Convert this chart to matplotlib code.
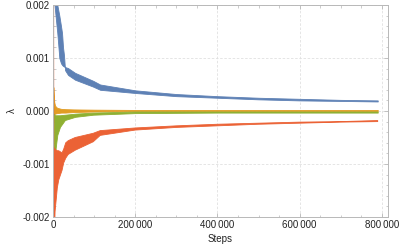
import numpy as np
import matplotlib.pyplot as plt
from matplotlib.ticker import FixedLocator, MultipleLocator, FuncFormatter

plt.rcParams['font.family'] = ['Liberation Sans', 'DejaVu Sans']

# eigenvalue bands (upper / lower envelope per series)
blue_steps = [2400, 4900, 7500, 10500, 15400, 19500, 22000, 24400, 26800, 29300, 36600,
              53700, 97600, 114600, 200000, 300000, 400000, 500000, 600000, 700000, 790000]
blue_upper = [0.0021, 0.0019, 0.0017, 0.00147, 0.0010, 0.00090, 0.00087, 0.00085, 0.00084, 0.00083, 0.00081,
              0.00072, 0.00057, 0.00050, 0.00039, 0.00032, 0.00028, 0.00025, 0.00023, 0.00021, 0.00020]
blue_lower = [0.0026, 0.0024, 0.0022, 0.0020, 0.0018, 0.0016, 0.00147, 0.0012, 0.00105, 0.00077, 0.00068,
              0.00059, 0.00046, 0.00040, 0.00034, 0.00028, 0.00025, 0.00022, 0.00020, 0.00019, 0.00018]

orange_steps = [800, 1500, 3000, 5000, 10000, 20000, 30000, 50000, 100000, 200000, 400000, 790000]
orange_upper = [0.00045, 0.00035, 0.00017, 0.00010, 0.00006, 0.00004, 0.000035, 0.00003, 0.000025, 0.00002, 0.00002, 0.00002]
orange_lower = [-0.0002, -0.0001, -0.00006, -0.00005, -0.00004, -0.00003, -0.00003, -0.00002, -0.00001, 0.0, 0.0, 0.0]

green_steps = [1500, 5000, 8000, 10500, 17000, 29000, 54000, 98000, 200000, 400000, 790000]
green_upper = [-0.00005, -0.00008, -0.00008, -0.00008, -0.00008, -0.00007, -0.00005, -0.00003, -0.00001, -0.00001, -0.00001]
green_lower = [-0.0009, -0.0008, -0.0006, -0.00045, -0.0003, -0.00017, -0.00011, -0.00007, -0.00004, -0.00003, -0.00003]

red_steps = [0, 1500, 2000, 5000, 10500, 14000, 22000, 26000, 31000, 37000, 54000, 98000, 115000,
             200000, 300000, 400000, 500000, 600000, 700000, 790000]
red_upper = [0.003, 0.003, -0.00068, -0.00072, -0.00075, -0.00075, -0.00079, -0.00072, -0.00060, -0.00056,
             -0.00050, -0.00042, -0.00037, -0.00032, -0.00028, -0.00025, -0.00023, -0.00021, -0.00020, -0.00018]
red_lower = [-0.003, -0.003, -0.003, -0.0019, -0.00145, -0.0013, -0.00112, -0.00098, -0.00089, -0.00082,
             -0.00074, -0.00058, -0.00046, -0.00036, -0.00031, -0.00028, -0.00025, -0.00023, -0.00021, -0.00020]

series = [
    (blue_steps, blue_upper, blue_lower, '#5E81B5'),
    (orange_steps, orange_upper, orange_lower, '#E19C24'),
    (green_steps, green_upper, green_lower, '#8FB032'),
    (red_steps, red_upper, red_lower, '#EB6235'),
]

fig = plt.figure(figsize=(3.99, 2.44), dpi=100)
ax = fig.add_axes([53 / 399, 1 - 217 / 244, 335 / 399, 212 / 244])

for steps, up, lo, col in series:
    ax.fill_between(steps, lo, up, color=col, lw=0.6, edgecolor=col)

ax.set_xlim(0, 815000)
ax.set_ylim(-0.002, 0.002)

ax.xaxis.set_major_locator(FixedLocator([0, 200000, 400000, 600000, 800000]))
ax.xaxis.set_minor_locator(MultipleLocator(50000))
ax.yaxis.set_major_locator(FixedLocator([-0.002, -0.001, 0.0, 0.001, 0.002]))
ax.yaxis.set_minor_locator(MultipleLocator(0.0002))

def fmt_x(v, pos):
    s = '%d' % round(v)
    if len(s) > 3:
        s = s[:-3] + '\u2009' + s[-3:]
    return s

ax.xaxis.set_major_formatter(FuncFormatter(fmt_x))
ax.yaxis.set_major_formatter(FuncFormatter(lambda v, p: '%.3f' % v if abs(v) > 1e-9 else '0.000'))

ax.grid(True, which='major', color='#e0e0e0', ls=(0, (3, 2)), lw=0.6)
ax.set_axisbelow(True)

for sp in ax.spines.values():
    sp.set_color('#b8b8b8')
    sp.set_linewidth(0.7)

ax.tick_params(which='both', direction='in', color='#b8b8b8', top=True, right=True,
               labelsize=7, labelcolor='#222222', pad=2)
ax.tick_params(which='major', length=3, width=0.6)
ax.tick_params(which='minor', length=1.8, width=0.5)

ax.set_xlabel('Steps', fontsize=7, color='#222222', labelpad=3)
ax.set_ylabel('λ', fontsize=7, color='#222222', labelpad=4)

fig.savefig('out.png', dpi=100)
